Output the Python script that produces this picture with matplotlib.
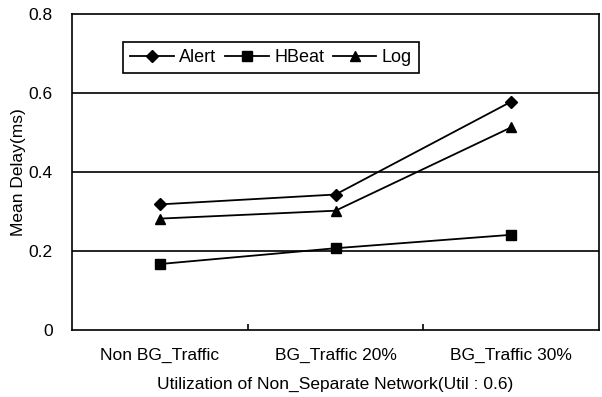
import matplotlib
matplotlib.use("Agg")
import matplotlib.pyplot as plt

categories = ["Non BG_Traffic", "BG_Traffic 20%", "BG_Traffic 30%"]
alert = [0.318, 0.343, 0.578]
hbeat = [0.167, 0.207, 0.241]
log = [0.282, 0.302, 0.513]
y_ticks = [0, 0.2, 0.4, 0.6, 0.8]
y_labels = ["0", "0.2", "0.4", "0.6", "0.8"]

plt.rcParams["font.family"] = ["Liberation Sans", "DejaVu Sans"]

fig = plt.figure(figsize=(6.02, 3.97), dpi=100)
ax = fig.add_axes([72 / 602, 1 - 330 / 397, 527 / 602, 316 / 397])

x = range(len(categories))
ax.plot(x, alert, color="black", lw=1.3, marker="D", ms=6.5, label="Alert")
ax.plot(x, hbeat, color="black", lw=1.3, marker="s", ms=7.5, label="HBeat")
ax.plot(x, log, color="black", lw=1.3, marker="^", ms=7.5, label="Log")

ax.set_xlim(-0.5, 2.5)
ax.set_ylim(0, 0.8)
ax.set_yticks(y_ticks)
ax.set_yticklabels(y_labels, fontsize=12.5)
ax.tick_params(axis="y", length=0, pad=14)
ax.set_xticks(list(x))
ax.set_xticklabels(categories, fontsize=12.5)
ax.tick_params(axis="x", which="major", length=0, pad=13)
ax.set_xticks([0.5, 1.5], minor=True)
ax.tick_params(axis="x", which="minor", direction="in", length=4, width=1.2)

for yv in [0.2, 0.4, 0.6]:
    ax.axhline(yv, color="black", lw=1.2, zorder=0)
for s in ax.spines.values():
    s.set_linewidth(1.2)

ax.set_ylabel("Mean Delay(ms)", fontsize=12.5)
ax.yaxis.set_label_coords(-0.088, 0.5)
ax.set_xlabel("Utilization of Non_Separate Network(Util : 0.6)", fontsize=12.5, labelpad=10)

leg = ax.legend(loc="upper left", bbox_to_anchor=(0.08, 0.94), ncol=3, fontsize=13,
                fancybox=False, edgecolor="black", framealpha=1, handlelength=2.4,
                handletextpad=0.3, columnspacing=0.5, borderpad=0.4)
leg.get_frame().set_linewidth(1.2)

fig.savefig("out.png", dpi=100)
